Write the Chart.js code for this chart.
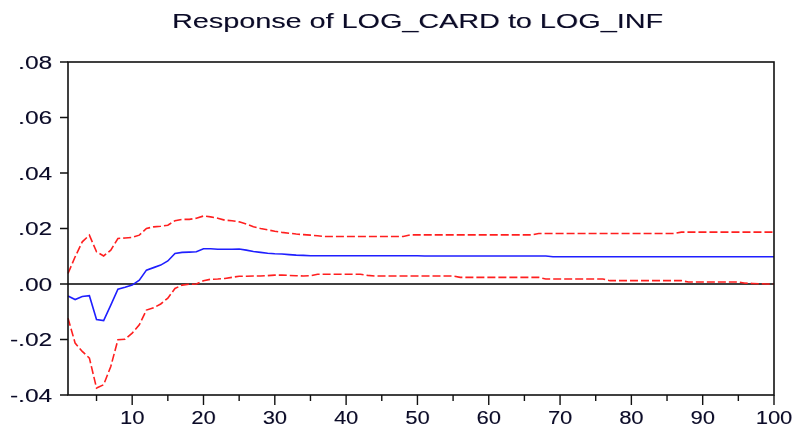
<!DOCTYPE html>
<html>
<head>
<meta charset="utf-8">
<script src="https://cdn.jsdelivr.net/npm/chart.js@4/dist/chart.umd.min.js"></script>
<style>
  html, body { margin: 0; padding: 0; background: #fff; }
  #wrap { width: 795px; height: 428px; }
</style>
</head>
<body>
<div id="wrap"><canvas id="irf" width="795" height="428"></canvas></div>
<script>
// Impulse response of LOG_CARD to a shock in LOG_INF, with +/- 2 S.E. bands
const periods = Array.from({ length: 100 }, (_, i) => i + 1);

const response = [
  -0.0043, -0.0056, -0.0045, -0.0042, -0.0128, -0.0132, -0.0076, -0.0019, -0.0012, -0.0004,
   0.0014,  0.0050,  0.0059,  0.0068,  0.0083,  0.0110,  0.0114,  0.0115,  0.0116,  0.0127,
   0.0127,  0.0125,  0.0125,  0.0125,  0.0126,  0.0122,  0.0117,  0.0114,  0.0111,  0.0109,
   0.0108,  0.0106,  0.0104,  0.0103,  0.0102,  0.0102,  0.0102,  0.0102,  0.0102,  0.0102,
   0.0102,  0.0102,  0.0102,  0.0102,  0.0102,  0.0102,  0.0102,  0.0102,  0.0102,  0.0102,
   0.0101,  0.0101,  0.0101,  0.0101,  0.0101,  0.0101,  0.0101,  0.0101,  0.0101,  0.0101,
   0.0101,  0.0101,  0.0101,  0.0101,  0.0101,  0.0101,  0.0101,  0.0101,  0.0098,  0.0098,
   0.0098,  0.0098,  0.0098,  0.0098,  0.0098,  0.0098,  0.0098,  0.0098,  0.0098,  0.0098,
   0.0098,  0.0098,  0.0098,  0.0098,  0.0098,  0.0098,  0.0098,  0.0098,  0.0098,  0.0098,
   0.0098,  0.0098,  0.0098,  0.0098,  0.0098,  0.0098,  0.0098,  0.0098,  0.0098,  0.0098
];

const upperBand = [
   0.0038,  0.0098,  0.0152,  0.0176,  0.0116,  0.0101,  0.0122,  0.0164,  0.0166,  0.0168,
   0.0176,  0.0200,  0.0206,  0.0208,  0.0212,  0.0228,  0.0233,  0.0233,  0.0237,  0.0245,
   0.0242,  0.0237,  0.0230,  0.0228,  0.0224,  0.0216,  0.0206,  0.0200,  0.0195,  0.0190,
   0.0186,  0.0183,  0.0180,  0.0178,  0.0176,  0.0174,  0.0171,  0.0171,  0.0171,  0.0171,
   0.0171,  0.0171,  0.0171,  0.0171,  0.0171,  0.0171,  0.0171,  0.0171,  0.0177,  0.0177,
   0.0177,  0.0177,  0.0177,  0.0177,  0.0177,  0.0177,  0.0177,  0.0177,  0.0177,  0.0177,
   0.0177,  0.0177,  0.0177,  0.0177,  0.0177,  0.0177,  0.0182,  0.0182,  0.0182,  0.0182,
   0.0182,  0.0182,  0.0182,  0.0182,  0.0182,  0.0182,  0.0182,  0.0182,  0.0182,  0.0182,
   0.0182,  0.0182,  0.0182,  0.0182,  0.0182,  0.0182,  0.0187,  0.0187,  0.0187,  0.0187,
   0.0187,  0.0187,  0.0187,  0.0187,  0.0187,  0.0187,  0.0187,  0.0187,  0.0187,  0.0187
];

const lowerBand = [
  -0.0123, -0.0213, -0.0243, -0.0267, -0.0375, -0.0363, -0.0297, -0.0201, -0.0199, -0.0177,
  -0.0147, -0.0094, -0.0086, -0.0072, -0.0051, -0.0016, -0.0004, -0.0001,  0.0000,  0.0012,
   0.0017,  0.0018,  0.0020,  0.0024,  0.0028,  0.0028,  0.0029,  0.0029,  0.0030,  0.0032,
   0.0032,  0.0031,  0.0030,  0.0029,  0.0030,  0.0035,  0.0035,  0.0035,  0.0035,  0.0035,
   0.0035,  0.0035,  0.0031,  0.0029,  0.0029,  0.0029,  0.0029,  0.0029,  0.0029,  0.0029,
   0.0029,  0.0029,  0.0029,  0.0029,  0.0029,  0.0024,  0.0024,  0.0024,  0.0024,  0.0024,
   0.0024,  0.0024,  0.0024,  0.0024,  0.0024,  0.0024,  0.0024,  0.0018,  0.0018,  0.0018,
   0.0018,  0.0018,  0.0018,  0.0018,  0.0018,  0.0018,  0.0012,  0.0012,  0.0012,  0.0012,
   0.0012,  0.0012,  0.0012,  0.0012,  0.0012,  0.0012,  0.0012,  0.0007,  0.0007,  0.0007,
   0.0007,  0.0007,  0.0007,  0.0007,  0.0007,  0.0003,  0.0002,  0.0001,  0.0000,  0.0000
];

const yTickValues = [0.08, 0.06, 0.04, 0.02, 0.00, -0.02, -0.04];
const yTickLabels = ['.08', '.06', '.04', '.02', '.00', '-.02', '-.04'];
const xMajorTicks = [10, 20, 30, 40, 50, 60, 70, 80, 90, 100];
const xMinorTicks = [5, 15, 25, 35, 45, 55, 65, 75, 85, 95];
const titleText = 'Response of LOG_CARD to LOG_INF';

const FONT = '"Liberation Sans", Arial, Helvetica, sans-serif';
const TEXT_COLOR = '#0c0c28';

// draw text stretched horizontally to a given width
function drawWideText(ctx, text, x, y, size, targetWidth, align) {
  ctx.save();
  ctx.font = size + 'px ' + FONT;
  const w = ctx.measureText(text).width;
  const sx = targetWidth / w;
  ctx.translate(x, y);
  ctx.scale(sx, 1);
  ctx.textAlign = align;
  ctx.textBaseline = 'alphabetic';
  ctx.fillStyle = TEXT_COLOR;
  ctx.fillText(text, 0, 0);
  // a faint second pass gives the slightly heavier strokes of the printed labels
  ctx.globalAlpha = 0.35;
  ctx.fillText(text, 0.4, 0);
  ctx.restore();
  return sx;
}

const frameAndAxes = {
  id: 'frameAndAxes',
  beforeDatasetsDraw(chart) {
    const { ctx, chartArea: a, scales: { y } } = chart;
    const y0 = y.getPixelForValue(0);
    ctx.save();
    ctx.strokeStyle = '#000';
    ctx.lineWidth = 1.3;
    ctx.beginPath();
    ctx.moveTo(a.left, y0);
    ctx.lineTo(a.right, y0);
    ctx.stroke();
    ctx.restore();
  },
  afterDatasetsDraw(chart) {
    const { ctx, chartArea: a, scales: { x, y } } = chart;
    ctx.save();
    ctx.strokeStyle = '#111';
    ctx.lineWidth = 1.6;
    ctx.strokeRect(a.left, a.top, a.right - a.left, a.bottom - a.top);

    // y ticks
    ctx.lineWidth = 1.4;
    ctx.beginPath();
    yTickValues.forEach(v => {
      const py = y.getPixelForValue(v);
      ctx.moveTo(a.left - 8, py);
      ctx.lineTo(a.left, py);
    });
    ctx.stroke();

    // x ticks: major and minor
    ctx.beginPath();
    xMajorTicks.forEach(v => {
      const px = x.getPixelForValue(periods.indexOf(v));
      ctx.moveTo(px, a.bottom);
      ctx.lineTo(px, a.bottom + 10);
    });
    xMinorTicks.forEach(v => {
      const px = x.getPixelForValue(periods.indexOf(v));
      ctx.moveTo(px, a.bottom);
      ctx.lineTo(px, a.bottom + 6);
    });
    ctx.stroke();
    ctx.restore();

    // y tick labels (width of "-.04" sets the horizontal scale)
    ctx.font = '18px ' + FONT;
    const ySx = 42 / ctx.measureText('-.04').width;
    yTickValues.forEach((v, i) => {
      const py = y.getPixelForValue(v);
      const w = ctx.measureText(yTickLabels[i]).width * ySx;
      drawWideText(ctx, yTickLabels[i], 52, py + 6.5, 18, w, 'right');
    });

    // x tick labels (width of "100" sets the horizontal scale)
    ctx.font = '18px ' + FONT;
    const xSx = 36.5 / ctx.measureText('100').width;
    xMajorTicks.forEach(v => {
      const px = x.getPixelForValue(periods.indexOf(v));
      const label = String(v);
      const w = ctx.measureText(label).width * xSx;
      drawWideText(ctx, label, px, 424, 18, w, 'center');
    });

    // title
    drawWideText(ctx, titleText, 417.5, 28, 21, 491, 'center');
  }
};

const dashed = [8, 3];

new Chart(document.getElementById('irf'), {
  type: 'line',
  data: {
    labels: periods,
    datasets: [
      {
        label: 'upper',
        data: upperBand,
        borderColor: '#ff1f1f',
        borderWidth: 1.6,
        borderDash: dashed,
        pointRadius: 0,
        tension: 0,
        fill: false
      },
      {
        label: 'lower',
        data: lowerBand,
        borderColor: '#ff1f1f',
        borderWidth: 1.6,
        borderDash: dashed,
        pointRadius: 0,
        tension: 0,
        fill: false
      },
      {
        label: 'response',
        data: response,
        borderColor: '#1f1fff',
        borderWidth: 1.6,
        pointRadius: 0,
        tension: 0,
        fill: false
      }
    ]
  },
  options: {
    responsive: false,
    animation: false,
    devicePixelRatio: 1,
    layout: { padding: { left: 68, right: 21, top: 62, bottom: 33 } },
    plugins: {
      legend: { display: false },
      tooltip: { enabled: false },
      title: { display: false }
    },
    scales: {
      x: { type: 'category', display: false, offset: false },
      y: { type: 'linear', display: false, min: -0.04, max: 0.08 }
    }
  },
  plugins: [frameAndAxes]
});
</script>
</body>
</html>
